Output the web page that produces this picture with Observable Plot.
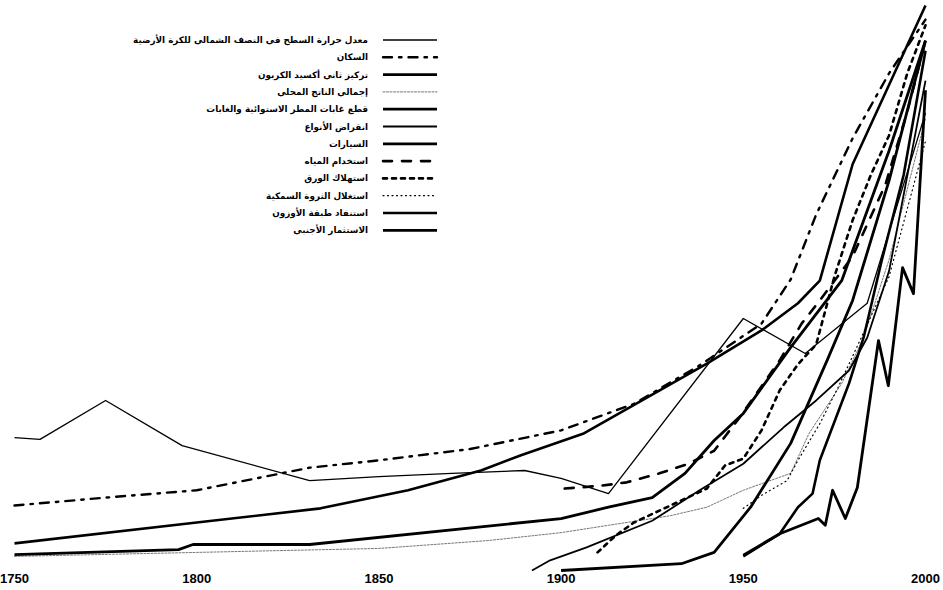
<!DOCTYPE html>
<html><head><meta charset="utf-8">
<script src="https://cdn.jsdelivr.net/npm/d3@7"></script>
<script src="https://cdn.jsdelivr.net/npm/@observablehq/plot@0.6"></script>
<style>
body{margin:0;background:#fff}
#chart{position:relative;width:943px;height:590px;overflow:hidden}
#chart svg.legend{position:absolute;left:0;top:0;pointer-events:none}
</style>
</head><body><div id="chart"></div>
<script>
// ---- data (index values, 0 = bottom, 100 = top) ----
const xTicks = [1750, 1800, 1850, 1900, 1950, 2000];

const seriesLabels = [
  "معدل حرارة السطح في النصف الشمالي للكرة الأرضية",
  "السكان",
  "تركيز ثاني أكسيد الكربون",
  "إجمالي الناتج المحلي",
  "قطع غابات المطر الاستوائية والغابات",
  "انقراض الأنواع",
  "السيارات",
  "استخدام المياه",
  "استهلاك الورق",
  "استغلال الثروة السمكية",
  "استنفاد طبقة الأوزون",
  "الاستثمار الأجنبي"
];

const temperature = [[1750,23.5],[1757,23.2],[1775,30.1],[1796,22.1],[1831,15.9],[1850,16.6],[1870,17.2],[1890,17.7],[1900,16.3],[1913,13.6],[1950,44.6],[1967,38.4],[1984,47.3],[2000,81]];
const population = [[1750,11.5],[1775,12.9],[1800,14.2],[1831,18.2],[1850,19.5],[1875,21.5],[1900,24.8],[1920,29.5],[1938,36.3],[1955,43.7],[1963,51.5],[1970,63],[1980,76.5],[1990,88],[2000,97.5]];
const co2 = [[1750,4.8],[1800,8.5],[1834,11.0],[1858,14.2],[1878,17.7],[1889,20.4],[1906,24.2],[1940,36.6],[1955,42.5],[1965,47.3],[1971,51.3],[1980,71.9],[2000,100]];
const gdp = [[1750,2.5],[1800,3.2],[1821,3.5],[1850,3.9],[1880,5.3],[1900,6.7],[1913,8.0],[1930,9.7],[1940,11.2],[1950,14.2],[1963,17.2],[1968,24.2],[1977,33.1],[1983,41.2],[1990,55],[2000,80]];
const rainforest = [[1750,2.8],[1795,3.7],[1799,4.6],[1831,4.6],[1900,9.2],[1913,11.2],[1925,12.9],[1934,17.2],[1942,23.0],[1950,27.8],[1963,39.5],[1977,51.3],[1990,74.3],[2000,93.8]];
const species = [[1892,0],[1897,1.8],[1907,4.1],[1925,8.8],[1938,14.2],[1950,18.9],[1961,25.3],[1970,30.1],[1979,35.4],[1984,41.2],[1990,53],[2000,86.7]];
const vehicles = [[1900,0],[1933,1.2],[1942,3.2],[1952,11.2],[1963,22.5],[1973,37.2],[1980,47.8],[1990,69],[2000,93.8]];
const water = [[1901,14.5],[1911,15.0],[1918,15.6],[1927,17.2],[1935,18.9],[1942,21.2],[1949,27.1],[1960,37.2],[1966,43.7],[1971,47.8],[1980,55.6],[1989,68.3],[1995,81.2],[2000,93.8]];
const paper = [[1910,3.2],[1915,6.2],[1920,8.5],[1930,11.5],[1940,14.5],[1945,18.6],[1950,19.8],[1955,24.8],[1960,31.9],[1965,36.5],[1970,40],[1975,52],[1980,62],[1985,70],[1990,77],[1995,88],[2000,96.5]];
const fisheries = [[1950,11.0],[1955,13.3],[1962,15.9],[1965,19.5],[1971,26.0],[1976,32.4],[1982,40.7],[1990,52],[2000,76]];
const ozone = [[1950,2.5],[1960,6.5],[1965,11.2],[1969,13.6],[1971,19.5],[1979,33.1],[1983,41.2],[1988,54.9],[1994,70],[2000,92]];
const investment = [[1950,2.7],[1960,6.5],[1970.6,9.2],[1972.5,8.0],[1974.5,14.2],[1978,9.2],[1981.3,14.7],[1987.1,40.7],[1989.8,32.7],[1993.7,53.6],[1996.7,49.0],[2000,85]];

const seriesData = [temperature, population, co2, gdp, rainforest, species, vehicles, water, paper, fisheries, ozone, investment];

// ---- styles ----
const seriesStyles = [
  {w:1.3, dash:null, color:"#000"},
  {w:2.4, dash:"9,7,2.5,7", color:"#000"},
  {w:2.6, dash:null, color:"#000"},
  {w:0.9, dash:"2,1.5", color:"#666"},
  {w:2.8, dash:null, color:"#000"},
  {w:1.8, dash:null, color:"#000"},
  {w:2.8, dash:null, color:"#000"},
  {w:2.6, dash:"9,10", color:"#000"},
  {w:2.6, dash:"4,5", color:"#000"},
  {w:1.2, dash:"1,3.5", color:"#000"},
  {w:2.6, dash:null, color:"#000"},
  {w:2.8, dash:null, color:"#000"}
];

const plot = Plot.plot({
  width: 943,
  height: 590,
  marginTop: 5,
  marginBottom: 20,
  marginLeft: 14,
  marginRight: 18,
  style: {background: "#fff", fontFamily: "'Liberation Sans Narrow','Liberation Sans',sans-serif"},
  x: {domain: [1750, 2000]},
  y: {domain: [0, 100], axis: null},
  marks: [
    Plot.axisX({ticks: xTicks, tickSize: 0, tickPadding: 3, tickFormat: d => String(d),
      fontSize: 13, fontWeight: "bold", fill: "#000"}),
    ...seriesData.map((s, i) => Plot.line(s, {
      x: d => d[0], y: d => d[1],
      stroke: seriesStyles[i].color,
      strokeWidth: seriesStyles[i].w,
      strokeDasharray: seriesStyles[i].dash,
      strokeLinejoin: "round",
      strokeLinecap: seriesStyles[i].dash ? "round" : "butt"
    }))
  ]
});

const chart = document.getElementById("chart");
chart.appendChild(plot);

// ---- legend overlay ----
const lg = d3.select(chart).append("svg").attr("class", "legend")
  .attr("width", 943).attr("height", 590);
const rowY0 = 40, rowStep = 17.3, textRight = 368, lineX0 = 383, lineX1 = 437;
seriesLabels.forEach((label, i) => {
  const y = rowY0 + i * rowStep;
  const st = seriesStyles[i];
  lg.append("line")
    .attr("x1", lineX0).attr("x2", lineX1).attr("y1", y).attr("y2", y)
    .attr("stroke", st.color).attr("stroke-width", st.w)
    .attr("stroke-dasharray", st.dash)
    .attr("stroke-linecap", st.dash ? "round" : "butt");
  lg.append("text")
    .attr("x", textRight).attr("y", y).attr("dy", "0.35em")
    .attr("text-anchor", "end")
    .style("font-family", "'DejaVu Sans', sans-serif")
    .style("font-size", "8.8px")
    .style("font-weight", "bold")
    .text(label);
});
</script></body></html>
